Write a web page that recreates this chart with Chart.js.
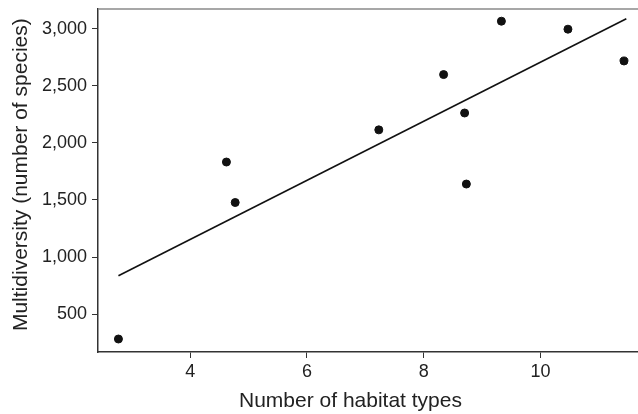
<!DOCTYPE html>
<html>
<head>
<meta charset="utf-8">
<script src="https://cdn.jsdelivr.net/npm/chart.js@4.4.0/dist/chart.umd.min.js"></script>
<style>
html,body{margin:0;padding:0;background:#fff;}
#wrap{width:638px;height:414px;position:relative;}
</style>
</head>
<body>
<div id="wrap"><canvas id="c" width="638" height="414"></canvas></div>
<script>
const habitatTypes = [2.77, 4.62, 4.77, 7.23, 8.34, 8.70, 8.73, 9.33, 10.47, 11.43];
const multidiversity = [281, 1833, 1478, 2115, 2600, 2263, 1640, 3068, 2998, 2719];
const fitX = [2.77, 11.47];
const fitY = [836, 3090];
const xTicks = [4, 6, 8, 10];
const yTicks = [500, 1000, 1500, 2000, 2500, 3000];

const pts = habitatTypes.map((x, i) => ({x: x, y: multidiversity[i]}));
const fitPts = fitX.map((x, i) => ({x: x, y: fitY[i]}));

const topBorder = {
  id: 'topBorder',
  afterDraw(chart) {
    const {ctx, chartArea} = chart;
    ctx.save();
    ctx.strokeStyle = '#8a8a8a';
    ctx.lineWidth = 1.5;
    ctx.beginPath();
    ctx.moveTo(chartArea.left, chartArea.top);
    ctx.lineTo(chartArea.right, chartArea.top);
    ctx.stroke();
    ctx.restore();
  }
};

const textColor = '#222';
const fontFam = '"Liberation Sans", Arial, Helvetica, sans-serif';
const nb = '\u00a0';

new Chart(document.getElementById('c'), {
  type: 'scatter',
  data: {
    datasets: [
      {
        type: 'line',
        data: fitPts,
        borderColor: '#111',
        borderWidth: 1.6,
        pointRadius: 0,
        fill: false,
        tension: 0
      },
      {
        data: pts,
        backgroundColor: '#111',
        borderColor: '#111',
        pointRadius: 4,
        pointHoverRadius: 4
      }
    ]
  },
  plugins: [topBorder],
  options: {
    responsive: false,
    animation: false,
    devicePixelRatio: 1,
    layout: {autoPadding: false, padding: {top: 9, right: 0, bottom: 0, left: 0}},
    plugins: {legend: {display: false}, tooltip: {enabled: false}},
    scales: {
      x: {
        type: 'linear',
        min: 2.42,
        max: 11.67,
        afterFit(s) { s.height = 62; s.paddingLeft = 0; s.paddingRight = 0; },
        afterBuildTicks(s) { s.ticks = xTicks.map(v => ({value: v})); },
        grid: {display: true, drawOnChartArea: false, drawTicks: true, tickLength: 6, tickColor: '#333', lineWidth: 1},
        border: {display: true, color: '#333', width: 1.5},
        ticks: {color: textColor, font: {family: fontFam, size: 18}, padding: 3, maxRotation: 0},
        title: {display: true, text: 'Number of habitat types' + nb.repeat(6), color: textColor, font: {family: fontFam, size: 21}, padding: {top: 0, bottom: 0}}
      },
      y: {
        type: 'linear',
        min: 167,
        max: 3175,
        afterFit(s) { s.width = 98; s.paddingTop = 0; s.paddingBottom = 0; },
        afterBuildTicks(s) { s.ticks = yTicks.map(v => ({value: v})); },
        grid: {display: true, drawOnChartArea: false, drawTicks: true, tickLength: 6, tickColor: '#333', lineWidth: 1},
        border: {display: true, color: '#333', width: 1.5},
        ticks: {color: textColor, font: {family: fontFam, size: 18}, padding: 5,
          callback: v => v.toLocaleString('en-US')},
        title: {display: true, text: nb.repeat(2) + 'Multidiversity (number of species)', color: textColor, font: {family: fontFam, size: 21}, padding: {top: 9, bottom: 0}}
      }
    }
  }
});
</script>
</body>
</html>
